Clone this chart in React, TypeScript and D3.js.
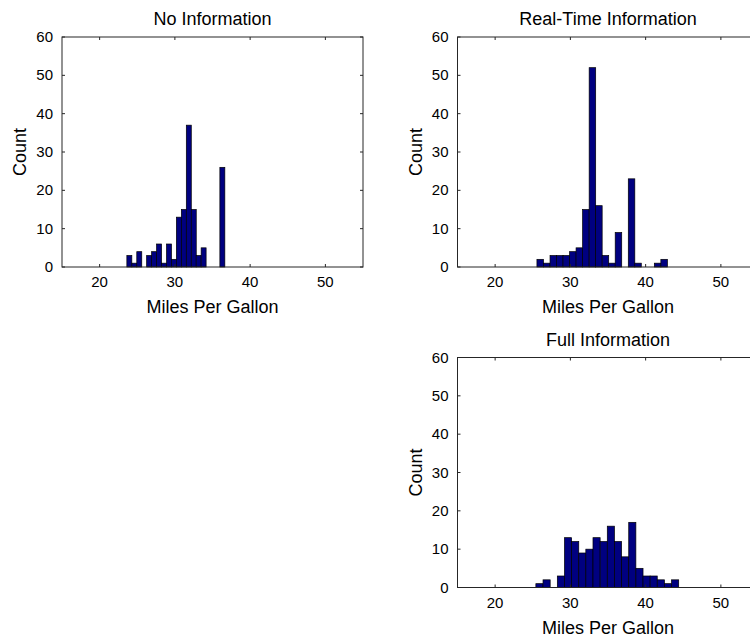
import React, { useEffect, useRef } from "react";
import * as d3 from "d3";

// Bin centers (miles per gallon) and counts
const noInfoCenters = [23.95, 24.61, 25.27, 26.58, 27.24, 27.9, 28.56, 29.22, 29.87, 30.53, 31.19, 31.85, 32.51, 33.16, 33.82, 36.31];
const noInfoCounts = [3, 1, 4, 3, 4, 6, 1, 6, 2, 13, 15, 37, 15, 3, 5, 26];
const noInfoBinWidth = 0.66;

const realTimeCenters = [25.99, 26.86, 27.73, 28.59, 29.46, 30.33, 31.19, 32.06, 32.93, 33.79, 34.66, 35.53, 36.39, 38.13, 38.99, 41.59, 42.46];
const realTimeCounts = [2, 1, 3, 3, 3, 4, 5, 15, 52, 16, 3, 1, 9, 23, 1, 1, 2];
const realTimeBinWidth = 0.867;

const fullInfoCenters = [25.89, 26.84, 28.74, 29.69, 30.64, 31.59, 32.53, 33.48, 34.43, 35.38, 36.33, 37.28, 38.23, 39.18, 40.13, 41.07, 42.02, 42.97, 43.92];
const fullInfoCounts = [1, 2, 3, 13, 12, 9, 10, 13, 12, 16, 12, 8, 17, 5, 3, 3, 2, 1, 2];
const fullInfoBinWidth = 0.949;

const xDomain = [15, 55];
const yDomain = [0, 60];
const xTicks = [20, 30, 40, 50];
const yTicks = [0, 10, 20, 30, 40, 50, 60];

const xLabel = "Miles Per Gallon";
const yLabel = "Count";

const panels = [
  { title: "No Information", centers: noInfoCenters, counts: noInfoCounts, binWidth: noInfoBinWidth, left: 62, top: 37 },
  { title: "Real-Time Information", centers: realTimeCenters, counts: realTimeCounts, binWidth: realTimeBinWidth, left: 457.5, top: 37 },
  { title: "Full Information", centers: fullInfoCenters, counts: fullInfoCounts, binWidth: fullInfoBinWidth, left: 457.5, top: 357.5 },
];

const App = () => {
  const svgRef = useRef(null);
  const width = 750;
  const height = 639;

  useEffect(() => {
    const svg = d3.select(svgRef.current);
    svg.selectAll("*").remove();

    const plotW = 301;
    const plotH = 230;
    const tickLen = 3;
    const axisColor = "#262626";
    const font = "'Liberation Sans', Arial, Helvetica, sans-serif";

    svg.append("rect").attr("width", width).attr("height", height).attr("fill", "#fff");

    panels.forEach((p) => {
      const x = d3.scaleLinear().domain(xDomain).range([0, plotW]);
      const y = d3.scaleLinear().domain(yDomain).range([plotH, 0]);

      const g = svg.append("g").attr("transform", `translate(${p.left},${p.top})`);

      // bars
      g.selectAll("rect.bar")
        .data(p.centers.map((c, i) => ({ c, n: p.counts[i] })))
        .enter()
        .append("rect")
        .attr("class", "bar")
        .attr("x", (d) => x(d.c - p.binWidth / 2))
        .attr("width", (d) => x(d.c + p.binWidth / 2) - x(d.c - p.binWidth / 2))
        .attr("y", (d) => y(d.n))
        .attr("height", (d) => y(0) - y(d.n))
        .attr("fill", "#000080")
        .attr("stroke", "#000")
        .attr("stroke-width", 0.7);

      // box
      g.append("rect")
        .attr("width", plotW)
        .attr("height", plotH)
        .attr("fill", "none")
        .attr("stroke", axisColor)
        .attr("stroke-width", 1);

      // ticks pointing inward on all sides
      xTicks.forEach((t) => {
        g.append("line").attr("x1", x(t)).attr("x2", x(t)).attr("y1", plotH).attr("y2", plotH - tickLen).attr("stroke", axisColor);
        g.append("line").attr("x1", x(t)).attr("x2", x(t)).attr("y1", 0).attr("y2", tickLen).attr("stroke", axisColor);
      });
      yTicks.forEach((t) => {
        g.append("line").attr("x1", 0).attr("x2", tickLen).attr("y1", y(t)).attr("y2", y(t)).attr("stroke", axisColor);
        g.append("line").attr("x1", plotW).attr("x2", plotW - tickLen).attr("y1", y(t)).attr("y2", y(t)).attr("stroke", axisColor);
      });

      // tick labels
      g.selectAll("text.xt")
        .data(xTicks)
        .enter()
        .append("text")
        .attr("x", (d) => x(d))
        .attr("y", plotH + 20)
        .attr("text-anchor", "middle")
        .attr("font-family", font)
        .attr("font-size", 15)
        .attr("fill", "#000")
        .text((d) => d);

      g.selectAll("text.yt")
        .data(yTicks)
        .enter()
        .append("text")
        .attr("x", -9)
        .attr("y", (d) => y(d) + 5)
        .attr("text-anchor", "end")
        .attr("font-family", font)
        .attr("font-size", 15)
        .attr("fill", "#000")
        .text((d) => d);

      // axis labels and title
      g.append("text")
        .attr("x", plotW / 2)
        .attr("y", plotH + 46)
        .attr("text-anchor", "middle")
        .attr("font-family", font)
        .attr("font-size", 18)
        .text(xLabel);

      g.append("text")
        .attr("transform", `translate(-36,${plotH / 2}) rotate(-90)`)
        .attr("text-anchor", "middle")
        .attr("font-family", font)
        .attr("font-size", 18)
        .text(yLabel);

      g.append("text")
        .attr("x", plotW / 2)
        .attr("y", -12)
        .attr("text-anchor", "middle")
        .attr("font-family", font)
        .attr("font-size", 18)
        .text(p.title);
    });
  }, []);

  return (
    <svg
      ref={svgRef}
      width={width}
      height={height}
      style={{ position: "absolute", left: 0, top: 0, display: "block" }}
    ></svg>
  );
};

export default App;
